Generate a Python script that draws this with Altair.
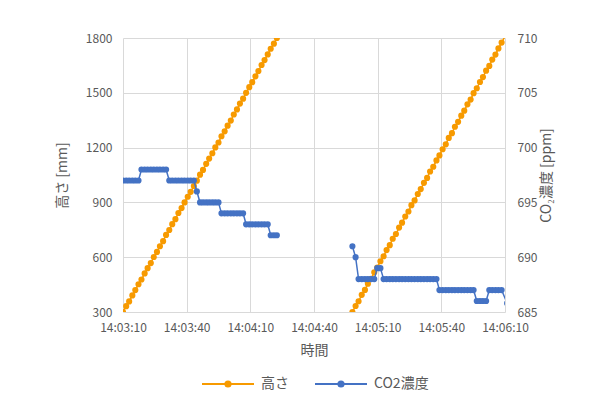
import altair as alt
import pandas as pd

# ---- data ----
tick_labels = ["14:03:10", "14:03:40", "14:04:10", "14:04:40", "14:05:10", "14:05:40", "14:06:10"]
tick_seconds = [0, 30, 60, 90, 120, 150, 180]
height_ticks = [300, 600, 900, 1200, 1500, 1800]
co2_ticks = [685, 690, 695, 700, 705, 710]

# run 1 (seconds after 14:03:10)
t1 = [0, 1.5, 2.9, 4.4, 5.8, 7.3, 8.7, 10.2, 11.6, 13.1, 14.5, 16.0, 17.4, 18.9, 20.3,
      21.8, 23.2, 24.7, 26.1, 27.6, 29.0, 30.5, 31.9, 33.4, 34.8, 36.3, 37.7, 39.2, 40.6,
      42.1, 43.5, 45.0, 46.4, 47.9, 49.3, 50.8, 52.2, 53.7, 55.1, 56.6, 58.0, 59.5, 60.9,
      62.4, 63.8, 65.3, 66.7, 68.2, 69.6, 71.1, 72.5]
h1 = [300, 332, 358, 391, 420, 452, 478, 511, 540, 568, 601, 629, 660, 688, 722, 749, 781,
      808, 842, 869, 900, 931, 958, 990, 1019, 1052, 1078, 1111, 1140, 1169, 1201, 1228,
      1262, 1289, 1320, 1348, 1381, 1409, 1441, 1468, 1500, 1531, 1558, 1590, 1619, 1652,
      1679, 1710, 1741, 1769, 1800]
c1 = [697, 697, 697, 697, 697, 697,
      698, 698, 698, 698, 698, 698, 698, 698, 698,
      697, 697, 697, 697, 697, 697, 697, 697, 697,
      696,
      695, 695, 695, 695, 695, 695, 695,
      694, 694, 694, 694, 694, 694, 694, 694,
      693, 693, 693, 693, 693, 693, 693, 693,
      692, 692, 692]

# run 2
t2 = [108.1, 109.6, 111.0, 112.5, 114.0, 115.4, 116.9, 118.4, 119.8, 121.3, 122.8, 124.2,
      125.7, 127.1, 128.6, 130.1, 131.5, 133.0, 134.5, 135.9, 137.4, 138.9, 140.3, 141.8,
      143.3, 144.7, 146.2, 147.7, 149.1, 150.6, 152.1, 153.5, 155.0, 156.4, 157.9, 159.4,
      160.8, 162.3, 163.8, 165.2, 166.7, 168.2, 169.6, 171.1, 172.6, 174.0, 175.5, 176.9,
      178.4, 181.0]
h2 = [300, 333, 359, 394, 421, 455, 482, 517, 543, 578, 605, 639, 666, 701, 727, 762, 789,
      823, 850, 885, 911, 946, 973, 1007, 1034, 1069, 1095, 1130, 1157, 1191, 1218, 1253,
      1279, 1314, 1341, 1375, 1402, 1437, 1463, 1498, 1525, 1559, 1586, 1621, 1647, 1682,
      1709, 1743, 1775, 1830]
c2 = [691, 690,
      688, 688, 688, 688, 688, 688,
      689, 689,
      688, 688, 688, 688, 688, 688, 688, 688, 688, 688, 688, 688, 688, 688, 688, 688, 688, 688,
      687, 687, 687, 687, 687, 687, 687, 687, 687, 687, 687, 687,
      686, 686, 686, 686,
      687, 687, 687, 687, 687,
      685.8]

series_names = ["高さ", "CO2濃度"]
series_colors = ["#F79A00", "#4472C4"]

rows = []
for seg, (ts, hs, cs) in enumerate([(t1, h1, c1), (t2, h2, c2)]):
    for t, h, c in zip(ts, hs, cs):
        rows.append({"t": t, "seg": seg, "series": series_names[0], "value": h})
        rows.append({"t": t, "seg": seg, "series": series_names[1], "value": c})
df = pd.DataFrame(rows)

FONT = "Noto Sans CJK JP"
GREY = "#595959"

label_expr = "[" + ",".join("'%s'" % s for s in tick_labels) + "][round(datum.value / 30)]"

x_enc = alt.X("t:Q",
              scale=alt.Scale(domain=[0, 180], nice=False, zero=False),
              axis=alt.Axis(values=tick_seconds, labelExpr=label_expr, title="時間",
                            labelPadding=10, titlePadding=10, grid=True,
                            labelOverlap=False, labelFlush=False))

color_scale = alt.Scale(domain=series_names, range=series_colors)
legend_path = ("M-1,0L1,0"
               "M-0.1,0A0.1,0.1,0,1,0,0.1,0A0.1,0.1,0,1,0,-0.1,0"
               "M-0.035,0A0.035,0.035,0,1,0,0.035,0A0.035,0.035,0,1,0,-0.035,0")
legend = alt.Legend(orient="none", legendX=78, legendY=319, direction="horizontal",
                    title=None, symbolType=legend_path, symbolSize=2704,
                    symbolStrokeWidth=2, labelFontSize=14, labelColor=GREY, labelFont=FONT,
                    labelOffset=6, columnPadding=22)


def make_layer(name, y_scale, y_axis):
    base = alt.Chart(df).transform_filter(alt.datum.series == name)
    y = alt.Y("value:Q", scale=y_scale, axis=y_axis)
    line = base.mark_line(strokeWidth=1.5, clip=True).encode(
        x=x_enc, y=y, detail="seg:N",
        color=alt.Color("series:N", scale=color_scale, legend=legend))
    pts = base.mark_point(filled=True, size=38, opacity=1, clip=True).encode(
        x=x_enc, y=y,
        color=alt.Color("series:N", scale=color_scale, legend=None))
    return alt.layer(line, pts)


height_layer = make_layer(
    "高さ",
    alt.Scale(domain=[300, 1800], nice=False, zero=False),
    alt.Axis(orient="left", values=height_ticks, title="高さ [mm]", grid=True,
             format="d", labelPadding=11, titlePadding=16))

co2_layer = make_layer(
    "CO2濃度",
    alt.Scale(domain=[685, 710], nice=False, zero=False),
    alt.Axis(orient="right", values=co2_ticks, title="CO₂濃度 [ppm]", grid=False,
             format="d", labelPadding=12, titlePadding=17, titleAngle=270))

chart = alt.layer(height_layer, co2_layer).resolve_scale(y="independent").properties(
    width=382, height=274,
    autosize=alt.AutoSizeParams(type="none"),
    padding={"left": 115, "top": 30, "right": 96, "bottom": 80},
    background="white",
).configure_view(stroke=None).configure_axis(
    domain=False, ticks=False, gridColor="#D9D9D9", gridWidth=1,
    labelFont=FONT, titleFont=FONT, labelColor=GREY, titleColor=GREY,
    labelFontSize=12, titleFontSize=14, titleFontWeight="normal",
)

chart.save("out.html", embed_options={"renderer": "svg", "actions": False})
